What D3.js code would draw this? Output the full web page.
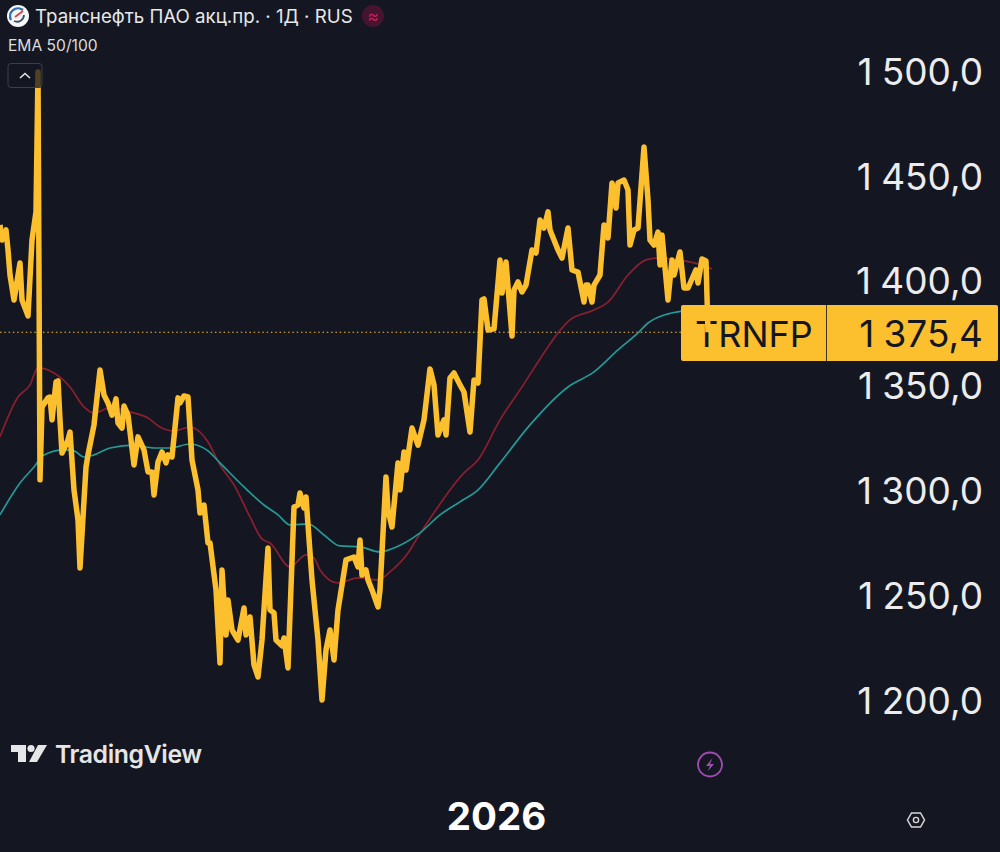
<!DOCTYPE html>
<html>
<head>
<meta charset="utf-8">
<script src="https://d3js.org/d3.v7.min.js"></script>
<style>
html, body { margin: 0; padding: 0; background: #141722; }
svg { display: block; }
svg text { font-family: Inter, "Noto Sans", sans-serif; }
.domain { display: none; }
</style>
</head>
<body>
<svg width="1000" height="852"></svg>
<script>
// close price (bar number / price)
var priceBars = [0,1,3,4,5,7,10,11,14,16,18,19,20,21,24,25,26,28,29,30,31,34,35,37,39,40,43,44,47,50,
  52,54,56,58,59,61,62,64,67,69,72,74,76,77,79,81,83,84,86,89,90,92,94,96,99,100,102,104,105,108,
  110,111,113,114,116,119,122,123,125,127,129,131,134,135,137,138,141,142,144,147,149,150,152,153,156,159,161,163,165,167,
  169,173,177,179,180,181,183,184,186,189,190,193,194,196,199,200,202,203,206,209,212,215,217,219,222,223,225,227,230,232,
  235,237,239,241,242,244,247,250,251,253,256,257,259,261,263,266,268,270,272,274,275,279,281,284,286,289,292,293,294,296,
  297,300,302,304,306,308,309,312,314,315,317,319,322,324,325,327,329,330,331,334,336,337,340,342,344,348,349,351,353,354];
var priceClose = [1426.6,1419.4,1424.2,1414.6,1402.7,1390.8,1408.4,1390.8,1383.2,1419.4,1432.8,1499.5,1305,1339.8,1344.1,1344.5,1333.6,1351.7,1352.2,1333.6,1317.8,1324,1327.8,1300.2,1285.9,1263,1311.1,1316.9,1331.2,1357.4,
  1345.5,1341.7,1335.9,1343.6,1332.1,1329.7,1340.2,1335.9,1312.1,1325.5,1319.3,1308.8,1308.8,1297.8,1313.5,1318.3,1313.1,1316.9,1315.9,1344.1,1341.7,1345,1344.5,1314.5,1300.2,1289.2,1293,1274.9,1274.9,1252.5,
  1217.7,1262,1231,1247.7,1233.4,1228.6,1243.9,1231,1239.6,1216.7,1211,1228.6,1272.5,1243,1241.5,1228.6,1225.8,1229.6,1215.3,1292.1,1293,1298.7,1291.6,1296.8,1257.3,1228.6,1200,1223.9,1233.4,1219.1,
  1243,1266.8,1268.2,1263.5,1276.3,1259.6,1262,1257.3,1252.5,1244.4,1252.5,1306.4,1290.6,1282.5,1313.1,1300.2,1318.3,1309.7,1329.7,1321.6,1333.6,1357.9,1350.3,1326.4,1333.6,1326.4,1353.6,1356,1350.3,1346.9,
  1327.8,1352.6,1351.2,1390.8,1391.3,1376.5,1377,1409.9,1394.1,1408.9,1373.6,1395.6,1399.4,1394.6,1397.9,1414.6,1413.2,1428.9,1425.1,1432.8,1424.2,1414.6,1410.8,1425.1,1405.1,1404.1,1389.8,1397.9,1397.9,1389.8,
  1397.9,1402.7,1426.6,1420.4,1446.6,1434.7,1446.6,1448,1443.2,1417,1424.2,1425.1,1463.8,1438.5,1419.4,1417,1423.2,1407.5,1421.8,1390.8,1409.9,1402.7,1413.7,1396.5,1396.5,1405.1,1398.9,1410.3,1409.4,1375.4];

// EMA 50
var ema50Bars = [0,9,15,19,27,35,42,47,55,65,74,80,87,95,104,110,117,125,131,135,145,153,157,160,169,179,189,195,204,209,219,225,232,239,250,260,274,279,285,297,304,314,323,329,339,349,356];
var ema50 = [1325.5,1344.5,1350.3,1358.4,1356,1349.3,1339.8,1336.9,1339.3,1337.4,1334.5,1330.2,1328.3,1330.2,1323.1,1312.1,1302.6,1287.3,1276.8,1274.9,1263.5,1269.2,1267.8,1262,1255.8,1258.2,1257.3,1261.1,1270.1,1277.8,1292.1,1300.2,1308.3,1314.5,1333.6,1347.9,1368.4,1375.1,1381.3,1386,1389.8,1402.7,1409.9,1410.8,1409.9,1408,1405.6];

// EMA 100
var ema100Bars = [0,10,17,22,32,37,42,47,55,67,77,85,95,104,110,122,132,139,145,154,162,170,180,190,197,210,220,230,239,250,265,284,297,309,319,324,332,341];
var ema100 = [1288.3,1303.5,1311.1,1316.9,1319.3,1318.8,1315.9,1316.9,1320.2,1321.6,1320.2,1320.2,1322.1,1318.8,1313.1,1301.6,1293,1288.3,1283.5,1284,1278.7,1273.5,1273,1270.6,1272.5,1279.7,1288.3,1294.5,1300.2,1313.1,1331.2,1349.3,1356.5,1367,1375.1,1379.8,1383.6,1385.5];

var priceTicks = [1200,1250,1300,1350,1400,1450,1500];
var yearBars = [248];
var yearLabels = ["2026"];
var lastPrice = 1375.4;
var ticker = "TRNFP";
var title = "Транснефть ПАО акц.пр. · 1Д · RUS";
var study = "EMA 50/100";

var gold = "#fcc02f", bg = "#141722";

var x = d3.scaleLinear().domain([0, 500]).range([0, 1000]);
var y = d3.scaleLinear().domain([1200, 1500]).range([700, 71]);

// 1375.4 -> "1 375,4"
function fmt(v) {
  var s = v.toFixed(1).replace(".", ",");
  return s.charAt(0) + "\u2005" + s.slice(1);
}

var svg = d3.select("svg");
svg.append("rect").attr("width", 1000).attr("height", 852).attr("fill", bg);

// last price dotted line
svg.append("line")
  .attr("x1", 0).attr("x2", 682)
  .attr("y1", y(lastPrice)).attr("y2", y(lastPrice))
  .attr("stroke", gold).attr("stroke-width", 1.2).attr("stroke-dasharray", "1.5 2.8");

var line = d3.line().x(function (d) { return x(d[0]); }).y(function (d) { return y(d[1]); });
var smooth = d3.line().curve(d3.curveMonotoneX).x(function (d) { return x(d[0]); }).y(function (d) { return y(d[1]); });

svg.append("path").datum(d3.zip(ema50Bars, ema50))
  .attr("d", smooth).attr("fill", "none").attr("stroke", "#8a1f2e").attr("stroke-width", 1.7);
svg.append("path").datum(d3.zip(ema100Bars, ema100))
  .attr("d", smooth).attr("fill", "none").attr("stroke", "#249a97").attr("stroke-width", 1.7);

// price axis
var yAxis = svg.append("g")
  .attr("transform", "translate(983,0)")
  .call(d3.axisLeft(y).tickValues(priceTicks).tickSize(0).tickPadding(0).tickFormat(fmt));
yAxis.selectAll("text")
  .attr("fill", "#ececec").style("font-size", "37px").attr("dy", "0.36em");

// year axis
var xAxis = svg.append("g")
  .attr("transform", "translate(0,830)")
  .call(d3.axisBottom(x).tickValues(yearBars).tickSize(0).tickPadding(0)
    .tickFormat(function (d, i) { return yearLabels[i]; }));
xAxis.selectAll("text")
  .attr("y", 0).attr("dy", 0)
  .attr("fill", "#ffffff").style("font-size", "38.5px").style("font-weight", 700);

// ticker label
svg.append("rect").attr("x", 681).attr("y", 305).attr("width", 317).attr("height", 56).attr("rx", 2).attr("fill", gold);
svg.append("line").attr("x1", 826.5).attr("x2", 826.5).attr("y1", 305).attr("y2", 361).attr("stroke", "#3b3520").attr("stroke-width", 1);
svg.append("text").attr("x", 695).attr("y", 347).attr("fill", bg).style("font-size", "36px").text(ticker);
svg.append("text").attr("x", 983).attr("y", 347).attr("text-anchor", "end").attr("fill", bg).style("font-size", "37px").text(fmt(lastPrice));

// price line goes over the label
svg.append("path").datum(d3.zip(priceBars, priceClose))
  .attr("d", line).attr("fill", "none").attr("stroke", gold)
  .attr("stroke-width", 5.5).attr("stroke-linejoin", "round").attr("stroke-linecap", "butt");

// collapse button sits on top of the spike
svg.append("rect").attr("x", 8).attr("y", 63.5).attr("width", 34).attr("height", 24).attr("rx", 3)
  .attr("fill", bg).attr("fill-opacity", 0.75).attr("stroke", "#3c3f4a").attr("stroke-width", 1);
svg.append("path").attr("d", "M20 78l5-4.5 5 4.5").attr("fill", "none").attr("stroke", "#e4e4e4").attr("stroke-width", 1.6);

// header
svg.append("circle").attr("cx", 18).attr("cy", 16).attr("r", 11).attr("fill", "#f4f6f8");
svg.append("path").attr("d", "M11 20a8 8 0 0 1 12-10").attr("fill", "none").attr("stroke", "#2f6fb5").attr("stroke-width", 2.4);
svg.append("path").attr("d", "M14 21a7 7 0 0 0 10-6").attr("fill", "none").attr("stroke", "#3a4a6b").attr("stroke-width", 1.8);
svg.append("path").attr("d", "M15 17l8-6").attr("stroke", "#d8453f").attr("stroke-width", 1.8);
svg.append("text").attr("x", 35).attr("y", 23).attr("fill", "#e8e8e8").style("font-size", "18.7px").text(title);
svg.append("circle").attr("cx", 373).attr("cy", 16).attr("r", 11).attr("fill", "#451530");
svg.append("text").attr("x", 373).attr("y", 22).attr("text-anchor", "middle").attr("fill", "#c2245f").style("font-size", "17px").text("≈");
svg.append("text").attr("x", 8).attr("y", 51).attr("fill", "#dcdcdc").style("font-size", "15.6px").text(study);

// TradingView mark
var mark = svg.append("g").attr("fill", "#e6e6e6");
mark.append("path").attr("d", "M11 745h15v17h-8v-10h-7z");
mark.append("circle").attr("cx", 31).attr("cy", 748.5).attr("r", 3.6);
mark.append("path").attr("d", "M38 745h9l-10 17h-8z");
svg.append("text").attr("x", 55).attr("y", 763).attr("fill", "#e6e6e6")
  .style("font-size", "24.8px").style("font-weight", 600).style("letter-spacing", "-0.4px").text("TradingView");

// lightning icon
svg.append("circle").attr("cx", 710).attr("cy", 764.5).attr("r", 12).attr("fill", "none").attr("stroke", "#a24bb5").attr("stroke-width", 1.8);
svg.append("path").attr("d", "M712.5 758l-6.5 8h4l-2.5 5.5 6.5-7.5h-4z").attr("fill", "#a24bb5");

// settings hexagon
svg.append("path").attr("d", "M907.5 820l4-7h9l4 7-4 7h-9z").attr("fill", "none").attr("stroke", "#d8d8d8").attr("stroke-width", 1.5);
svg.append("circle").attr("cx", 916).attr("cy", 820).attr("r", 2.6).attr("fill", "none").attr("stroke", "#d8d8d8").attr("stroke-width", 1.4);
</script>
</body>
</html>
